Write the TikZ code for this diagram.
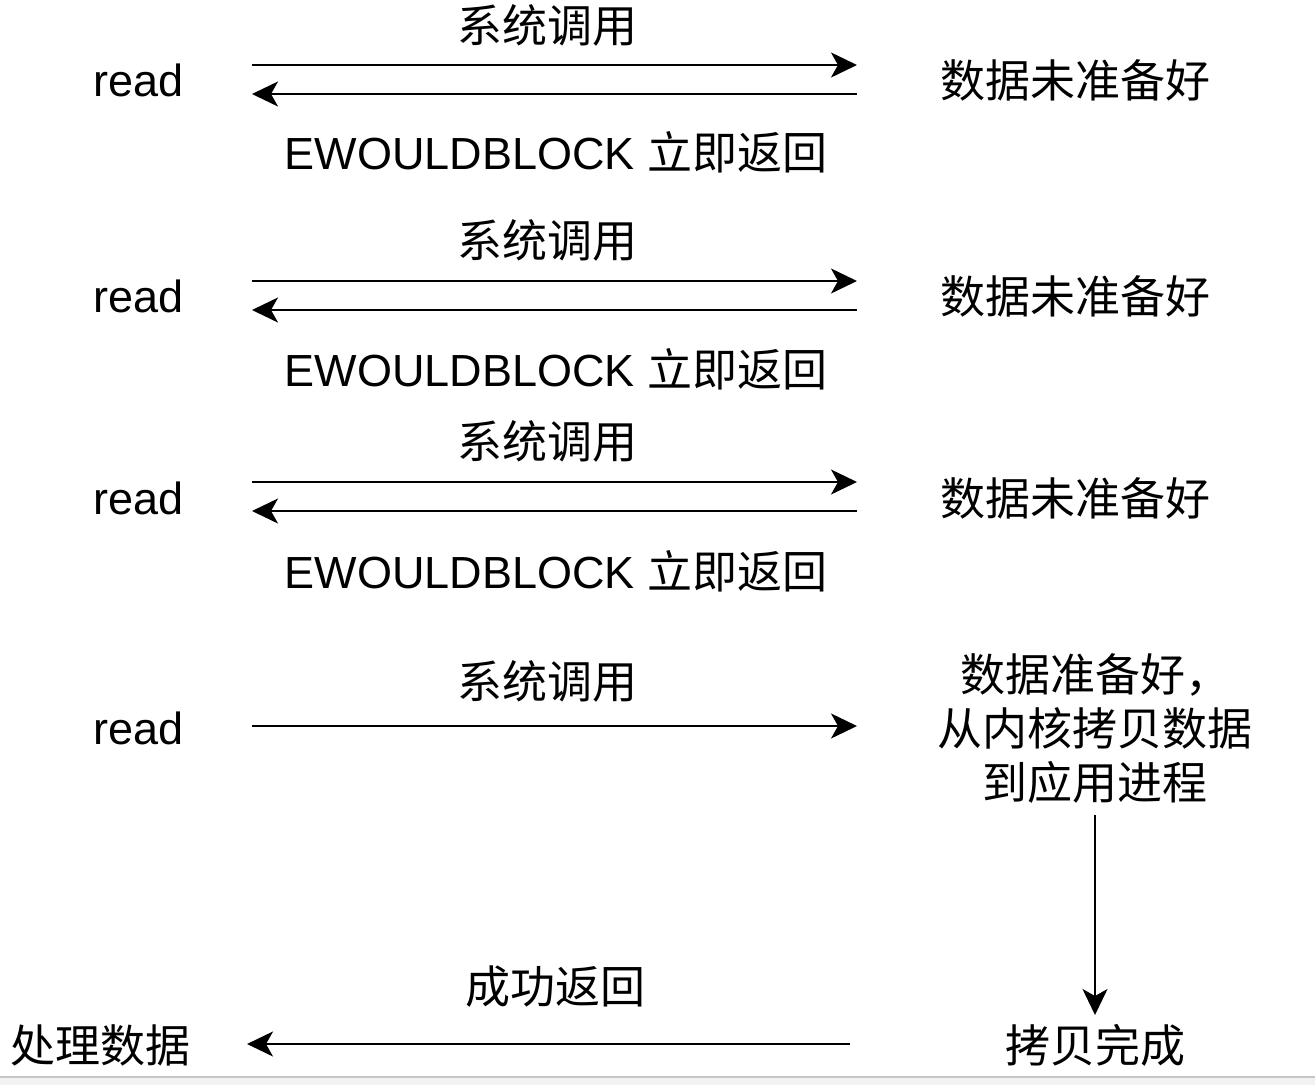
\documentclass[tikz,border=0pt]{standalone}
\usepackage{fontspec}
\setmainfont{Liberation Sans}
\newfontfamily\cjk{Noto Sans CJK SC}
\usetikzlibrary{arrows.meta}
\begin{document}
\begin{tikzpicture}[x=1pt,y=-1pt,
  lbl/.style={inner sep=0pt,font=\fontsize{45}{54}\selectfont},
  zh/.style={lbl,font=\fontsize{45}{54}\selectfont\cjk},
  conn/.style={line width=2pt,-{Stealth[length=26pt,width=25pt,inset=7pt]}}]
\useasboundingbox (0,0) rectangle (1315,1085);
\fill[gray!10] (0,1076) rectangle (1315,1085);
\draw[gray!45,line width=2pt] (0,1077) -- (1315,1077);

% rows 1-3
\foreach \i/\ya/\yr/\yb/\ye in {1/25/80/65/152, 2/240/296/281/369, 3/441/498/482/571}{
  \node[zh] (call\i) at (547,\ya) {系统调用};
  \node[lbl] (read\i) at (139,\yr) {read};
  \node[zh] (notready\i) at (1075,\yr) {数据未准备好};
  \node[lbl] (ew\i) at (556,\ye) {EWOULDBLOCK {\cjk 立即返回}};
  \coordinate (s\i) at (252,\yb);
  \coordinate (t\i) at (857,\yb);
  \coordinate (u\i) at (857,\yb+29);
  \coordinate (v\i) at (252,\yb+29);
  \draw[conn] (s\i) -- (t\i);
  \draw[conn] (u\i) -- (v\i);
}

% row 4
\node[zh] (call4) at (547,681) {系统调用};
\node[lbl] (read4) at (139,728) {read};
\node[zh,align=center] (ready) at (1095,728) {数据准备好，\\从内核拷贝数据\\到应用进程};
\coordinate (s4) at (252,726);
\coordinate (t4) at (857,726);
\draw[conn] (s4) -- (t4);

% bottom
\node[zh] (done) at (1095,1045) {拷贝完成};
\node[zh] (ok) at (555,987) {成功返回};
\node[zh] (proc) at (100,1045) {处理数据};
\coordinate (d1) at (1095,815);
\coordinate (d2) at (1095,1015);
\draw[conn] (d1) -- (d2);
\coordinate (b1) at (850,1044);
\coordinate (b2) at (247,1044);
\draw[conn] (b1) -- (b2);
\end{tikzpicture}
\end{document}
